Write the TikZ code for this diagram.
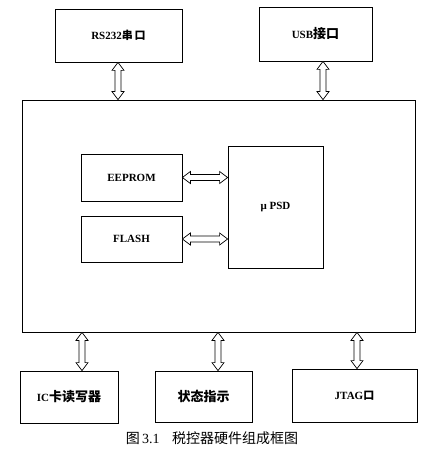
\documentclass[tikz,border=0pt]{standalone}
\usepackage{fontspec}
\setmainfont{Liberation Serif}
\newfontfamily\cjk{Noto Sans CJK SC}
\usetikzlibrary{calc}
\newcommand\cj[1]{{\cjk\fontsize{13}{15}\selectfont #1}}
\newcommand\darr[2]{%
  \draw[arrline] (#1) -- ($(#1)!8pt!(#2)!6pt!90:(#2)$) -- ($(#1)!8pt!(#2)!3pt!90:(#2)$)
   -- ($(#2)!8pt!(#1)!3pt!-90:(#1)$) -- ($(#2)!8pt!(#1)!6pt!-90:(#1)$) -- (#2)
   -- ($(#2)!8pt!(#1)!6pt!90:(#1)$) -- ($(#2)!8pt!(#1)!3pt!90:(#1)$)
   -- ($(#1)!8pt!(#2)!3pt!-90:(#2)$) -- ($(#1)!8pt!(#2)!6pt!-90:(#2)$) -- cycle;}
\tikzset{
  blk/.style={draw, line width=0.8pt, inner sep=0pt, font=\fontsize{11}{13}\selectfont\bfseries},
  arrline/.style={draw, line width=0.7pt, line join=miter, fill=white}
}
\begin{document}
\begin{tikzpicture}[x=1pt,y=-1pt]
\useasboundingbox (0,0) rectangle (435,454);
\node[blk, minimum width=127pt, minimum height=53pt] (rs) at (118.5,35.5) {RS232{\cjk 串\,口}};
\node[blk, minimum width=113pt, minimum height=54pt] (usb) at (315.5,34) {USB\cj{接口}};
\node[blk, minimum width=393pt, minimum height=232pt] (main) at (218.5,216) {};
\node[blk, minimum width=101pt, minimum height=47pt] (ee) at (131.5,177.5) {EEPROM};
\node[blk, minimum width=101pt, minimum height=46pt] (fl) at (131.5,239) {FLASH};
\node[blk, minimum width=95pt, minimum height=122pt] (up) at (275.5,207) {μ PSD};
\node[blk, minimum width=98pt, minimum height=52pt] (ic) at (69,397) {IC\cj{卡读写器}};
\node[blk, minimum width=97pt, minimum height=51pt] (zt) at (203.5,396.5) {\cj{状态指示}};
\node[blk, minimum width=125pt, minimum height=53pt] (jt) at (354.5,395.5) {JTAG{\cjk 口}};
\node[font=\fontsize{14}{16}\selectfont] (cap) at (212,438) {{\cjk 图}\,3.1\hspace{0.9em}{\cjk 税控器硬件组成框图}};
\coordinate (xr) at (118,0);
\coordinate (xu) at (323,0);
\coordinate (xi) at (82,0);
\coordinate (xz) at (218,0);
\coordinate (xj) at (357,0);
\coordinate (r1) at (rs.south -| xr);  \coordinate (r2) at (main.north -| xr);
\coordinate (u1) at (usb.south -| xu); \coordinate (u2) at (main.north -| xu);
\coordinate (e1) at (ee.east);         \coordinate (e2) at (ee.east -| up.west);
\coordinate (f1) at (fl.east);         \coordinate (f2) at (fl.east -| up.west);
\coordinate (i1) at (main.south -| xi); \coordinate (i2) at (ic.north -| xi);
\coordinate (z1) at (main.south -| xz); \coordinate (z2) at (zt.north -| xz);
\coordinate (j1) at (main.south -| xj); \coordinate (j2) at (jt.north -| xj);
\darr{r1}{r2}
\darr{u1}{u2}
\darr{e1}{e2}
\darr{f1}{f2}
\darr{i1}{i2}
\darr{z1}{z2}
\darr{j1}{j2}
\end{tikzpicture}
\end{document}
